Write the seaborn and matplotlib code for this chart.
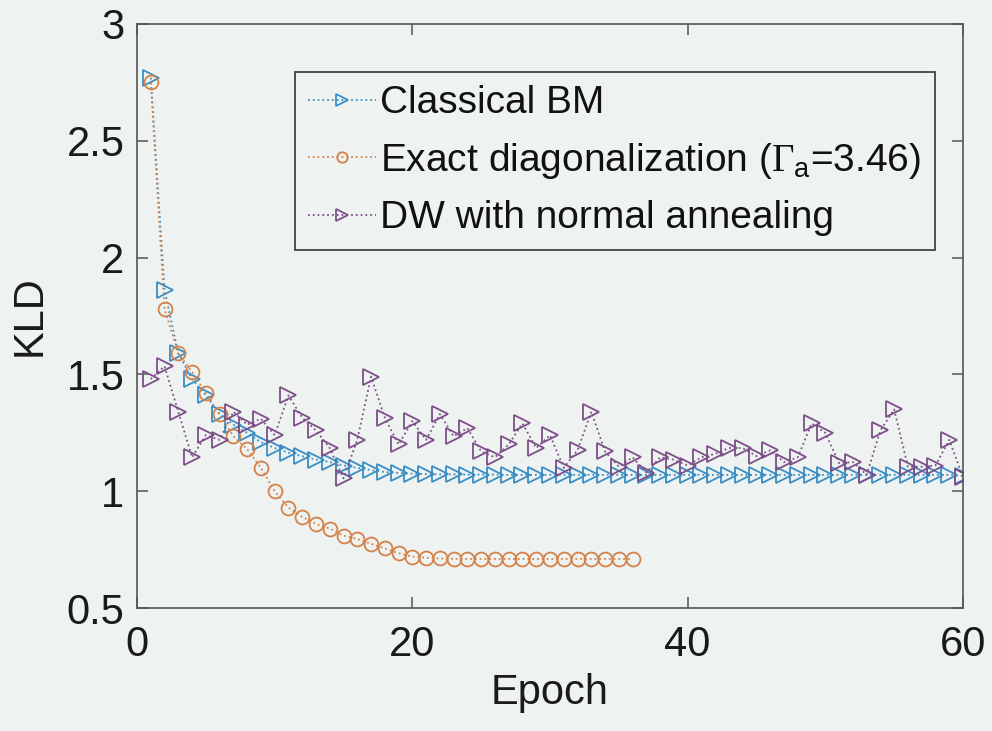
import numpy as np
import pandas as pd
import matplotlib
matplotlib.use("Agg")
import matplotlib.pyplot as plt
import seaborn as sns

# ---------------------------------------------------------
# data
# ---------------------------------------------------------
epochs = list(range(1, 61))

classical_bm = [
    2.77, 1.86, 1.59, 1.48, 1.41, 1.33, 1.285, 1.25, 1.21, 1.185,
    1.165, 1.15, 1.135, 1.125, 1.11, 1.10, 1.09, 1.082, 1.078, 1.075,
    1.073, 1.072, 1.072, 1.071, 1.071, 1.071, 1.07, 1.07, 1.07, 1.07,
    1.07, 1.07, 1.07, 1.07, 1.07, 1.07, 1.07, 1.07, 1.07, 1.07,
    1.07, 1.07, 1.07, 1.07, 1.07, 1.07, 1.07, 1.07, 1.07, 1.07,
    1.07, 1.07, 1.07, 1.07, 1.07, 1.07, 1.07, 1.07, 1.07, 1.065,
]

exact_epochs = list(range(1, 37))
exact_diag = [
    2.75, 1.78, 1.59, 1.51, 1.42, 1.33, 1.235, 1.18, 1.10, 1.00,
    0.93, 0.89, 0.86, 0.84, 0.81, 0.795, 0.775, 0.755, 0.735, 0.72,
    0.715, 0.712, 0.71, 0.71, 0.71, 0.71, 0.71, 0.71, 0.71, 0.71,
    0.71, 0.71, 0.71, 0.71, 0.71, 0.71,
]

dw_normal = [
    1.48, 1.535, 1.34, 1.145, 1.24, 1.22, 1.34, 1.285, 1.31, 1.24,
    1.41, 1.315, 1.26, 1.185, 1.055, 1.22, 1.49, 1.315, 1.20, 1.30,
    1.22, 1.33, 1.235, 1.27, 1.17, 1.145, 1.20, 1.29, 1.185, 1.24,
    1.10, 1.175, 1.34, 1.17, 1.105, 1.145, 1.08, 1.145, 1.135, 1.11,
    1.145, 1.16, 1.185, 1.185, 1.15, 1.175, 1.125, 1.145, 1.29, 1.25,
    1.12, 1.125, 1.07, 1.26, 1.35, 1.105, 1.105, 1.11, 1.22, 1.06,
]

labels = [
    "Classical BM",
    r"Exact diagonalization ($\Gamma_{\mathsf{a}}$=3.46)",
    "DW with normal annealing",
]

# ---------------------------------------------------------
# style
# ---------------------------------------------------------
bg = "#eef3f1"
sns.set_theme(style="white")
plt.rcParams["font.family"] = ["Liberation Sans", "DejaVu Sans"]
plt.rcParams["mathtext.fontset"] = "custom"
plt.rcParams["mathtext.rm"] = "Liberation Serif"
plt.rcParams["mathtext.sf"] = "Liberation Sans"
plt.rcParams["mathtext.it"] = "Liberation Sans"

fig = plt.figure(figsize=(9.92, 7.31), dpi=100, facecolor=bg)
ax = fig.add_axes([137 / 992, 1 - 608 / 731, 826 / 992, 584 / 731])
ax.set_facecolor(bg)

series = [
    (epochs, classical_bm, "#3a8ec4", ">", 11),
    (exact_epochs, exact_diag, "#d4814a", "o", 10),
    (epochs, dw_normal, "#7d4f88", ">", 11),
]
for (xs, ys, c, m, ms), lab in zip(series, labels):
    sns.lineplot(x=xs, y=ys, ax=ax, color=c, linestyle=":", linewidth=1.3,
                 marker=m, markersize=ms, markerfacecolor="none",
                 markeredgecolor=c, markeredgewidth=1.3, label=lab)

ax.set_xlim(0, 60)
ax.set_ylim(0.5, 3)
ax.set_xticks([0, 20, 40, 60])
ax.set_yticks([0.5, 1, 1.5, 2, 2.5, 3])
ax.set_yticklabels(["0.5", "1", "1.5", "2", "2.5", "3"])

for s in ax.spines.values():
    s.set_visible(True)
    s.set_color("#555555")
    s.set_linewidth(1.2)

ax.tick_params(axis="both", direction="in", length=8, width=1.1,
               color="#555555", labelsize=30, labelcolor="#1a1a1a",
               top=True, right=True, bottom=True, left=True)
ax.tick_params(axis="x", pad=12)
ax.tick_params(axis="y", pad=9)

ax.set_xlabel("Epoch", fontsize=30, color="#1a1a1a", labelpad=6)
ax.set_ylabel("KLD", fontsize=30, color="#1a1a1a", labelpad=12)

leg = ax.legend(loc="upper right", bbox_to_anchor=(0.966, 0.918),
                fontsize=28, frameon=True, fancybox=False, framealpha=1,
                facecolor=bg, edgecolor="#333333", numpoints=1,
                markerscale=0.75, handlelength=1.75, handletextpad=0.1,
                labelspacing=0.5, borderpad=0.35, borderaxespad=0)
leg.get_frame().set_linewidth(1.2)
for t in leg.get_texts():
    t.set_color("#111111")

fig.savefig("out.png", dpi=100, facecolor=bg)
